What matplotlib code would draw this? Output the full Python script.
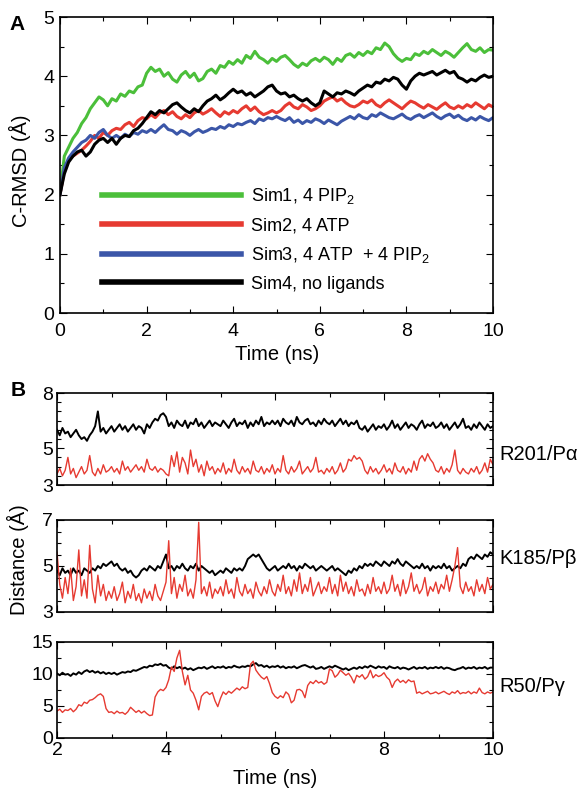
import numpy as np
import matplotlib
matplotlib.use("Agg")
import matplotlib.pyplot as plt
from matplotlib.ticker import MultipleLocator

plt.rcParams['font.family'] = ['Liberation Sans', 'DejaVu Sans']
plt.rcParams['mathtext.fontset'] = 'custom'
plt.rcParams['mathtext.rm'] = 'Liberation Sans'
plt.rcParams['mathtext.it'] = 'Liberation Sans:italic'

# ---------------- Panel A data (t = 0..10 ns, step 0.1) ----------------
time_a = np.round(np.arange(0, 10.001, 0.1), 2)

sim1_pip2 = [
    2.00, 2.65, 2.80, 2.95, 3.05, 3.20, 3.30, 3.45, 3.55, 3.65,
    3.60, 3.50, 3.62, 3.58, 3.70, 3.66, 3.75, 3.72, 3.82, 3.85,
    4.05, 4.15, 4.08, 4.12, 4.00, 4.06, 3.95, 3.90, 4.02, 4.08,
    3.98, 4.05, 3.92, 3.96, 4.08, 4.12, 4.05, 4.18, 4.15, 4.25,
    4.20, 4.28, 4.22, 4.35, 4.30, 4.42, 4.32, 4.28, 4.22, 4.30,
    4.25, 4.32, 4.35, 4.28, 4.20, 4.15, 4.22, 4.18, 4.26, 4.30,
    4.25, 4.32, 4.28, 4.20, 4.30, 4.25, 4.35, 4.38, 4.32, 4.40,
    4.35, 4.42, 4.38, 4.48, 4.45, 4.56, 4.50, 4.38, 4.30, 4.25,
    4.30, 4.28, 4.38, 4.35, 4.42, 4.38, 4.45, 4.40, 4.35, 4.42,
    4.38, 4.32, 4.40, 4.48, 4.55, 4.45, 4.42, 4.48, 4.40, 4.45,
    4.44]

sim2_atp = [
    2.00, 2.40, 2.58, 2.65, 2.70, 2.75, 2.82, 2.90, 3.00, 2.95,
    3.05, 3.00, 3.08, 3.12, 3.10, 3.18, 3.22, 3.15, 3.25, 3.30,
    3.28, 3.35, 3.30, 3.38, 3.42, 3.35, 3.40, 3.32, 3.28, 3.35,
    3.30, 3.38, 3.42, 3.36, 3.40, 3.45, 3.38, 3.32, 3.40, 3.36,
    3.42, 3.38, 3.45, 3.50, 3.42, 3.48, 3.40, 3.35, 3.38, 3.42,
    3.38, 3.42, 3.50, 3.55, 3.48, 3.45, 3.52, 3.48, 3.42, 3.45,
    3.50, 3.58, 3.62, 3.65, 3.58, 3.62, 3.55, 3.50, 3.48, 3.52,
    3.58, 3.55, 3.60, 3.52, 3.48, 3.55, 3.60, 3.55, 3.50, 3.45,
    3.52, 3.58, 3.55, 3.50, 3.46, 3.52, 3.48, 3.44, 3.50, 3.55,
    3.48, 3.45, 3.50, 3.46, 3.52, 3.48, 3.55, 3.50, 3.45, 3.52,
    3.48]

sim3_atp_pip2 = [
    2.00, 2.45, 2.62, 2.72, 2.80, 2.88, 2.92, 3.00, 2.95, 3.05,
    3.10, 3.00, 2.95, 3.00, 2.95, 3.02, 2.98, 3.05, 3.02, 3.08,
    3.05, 3.10, 3.05, 3.12, 3.18, 3.10, 3.08, 3.02, 3.08, 3.05,
    3.00, 3.06, 3.10, 3.05, 3.08, 3.12, 3.10, 3.15, 3.12, 3.18,
    3.15, 3.20, 3.18, 3.22, 3.25, 3.20, 3.28, 3.25, 3.30, 3.28,
    3.32, 3.28, 3.25, 3.30, 3.22, 3.26, 3.20, 3.25, 3.22, 3.28,
    3.25, 3.20, 3.26, 3.22, 3.18, 3.24, 3.28, 3.32, 3.28, 3.35,
    3.30, 3.28, 3.35, 3.32, 3.38, 3.34, 3.30, 3.28, 3.32, 3.36,
    3.30, 3.27, 3.32, 3.35, 3.30, 3.34, 3.38, 3.32, 3.28, 3.33,
    3.36, 3.30, 3.34, 3.28, 3.25, 3.30, 3.26, 3.32, 3.28, 3.25,
    3.30]

sim4_none = [
    2.00, 2.35, 2.55, 2.65, 2.72, 2.75, 2.65, 2.72, 2.85, 2.92,
    2.95, 2.88, 2.95, 2.85, 2.95, 3.00, 2.98, 3.08, 3.12, 3.20,
    3.30, 3.40, 3.35, 3.42, 3.38, 3.45, 3.52, 3.55, 3.48, 3.42,
    3.38, 3.45, 3.40, 3.50, 3.58, 3.62, 3.68, 3.60, 3.65, 3.72,
    3.78, 3.72, 3.75, 3.68, 3.72, 3.65, 3.70, 3.75, 3.82, 3.85,
    3.75, 3.70, 3.72, 3.65, 3.68, 3.62, 3.58, 3.62, 3.55, 3.50,
    3.55, 3.75, 3.70, 3.65, 3.72, 3.70, 3.75, 3.72, 3.68, 3.75,
    3.80, 3.85, 3.82, 3.90, 3.88, 3.95, 3.92, 3.98, 3.95, 3.85,
    3.78, 3.92, 4.00, 4.05, 4.02, 4.05, 4.08, 4.02, 4.06, 4.10,
    4.05, 4.08, 3.98, 3.95, 3.90, 3.95, 3.92, 3.98, 4.02, 3.98,
    4.00]

legend_labels = ["Sim1, 4 PIP$_2$", "Sim2, 4 ATP",
                 "Sim3, 4 ATP  + 4 PIP$_2$", "Sim4, no ligands"]

# ---------------- Panel B data (t = 2..10 ns, step 0.05) ----------------
time_b = np.round(np.arange(2, 10.001, 0.05), 3)

r201_black = [
    6.0, 5.7, 6.1, 5.8, 5.9, 5.6, 5.8, 6.0, 5.7, 5.5, 5.6, 5.4, 5.7, 5.9, 6.2, 7.0, 5.9, 6.1, 5.8, 6.0,
    6.2, 5.9, 6.1, 6.3, 6.0, 6.2, 5.9, 6.1, 6.3, 6.0, 6.2, 6.1, 5.8, 6.3, 6.1, 6.4, 6.6, 6.5, 6.8, 6.9,
    6.7, 6.2, 6.4, 6.1, 6.5, 6.3, 6.2, 6.5, 6.1, 6.4, 6.3, 6.6, 6.2, 6.4, 6.1, 6.3, 6.5, 6.2, 6.4, 6.3,
    6.2, 6.5, 6.3, 6.1, 6.4, 6.6, 6.2, 6.4, 6.3, 6.5, 6.1, 6.4, 6.2, 6.5, 6.3, 6.7, 6.2, 6.4, 6.3, 6.5,
    6.3, 6.5, 6.2, 6.6, 6.4, 6.3, 6.5, 6.2, 6.7, 6.4, 6.3, 6.5, 6.6, 6.3, 6.4, 6.2, 6.5, 6.3, 6.6, 6.4,
    6.3, 6.5, 6.2, 6.4, 6.6, 6.3, 6.5, 6.2, 6.4, 6.3, 6.5, 6.1, 6.0, 6.2, 5.9, 6.1, 6.3, 6.0, 6.2, 6.1,
    6.3, 6.0, 6.2, 6.5, 6.1, 6.3, 6.0, 6.2, 6.4, 6.1, 6.3, 6.2, 6.0, 6.3, 6.5, 6.1, 6.3, 6.2, 6.4, 6.1,
    6.2, 6.4, 6.1, 6.3, 6.0, 6.2, 6.4, 6.1, 6.3, 6.6, 6.1, 6.2, 6.0, 6.3, 6.1, 6.4, 6.2, 6.0, 6.3, 6.1,
    6.2]

r201_red = [
    3.6, 3.9, 3.5, 3.8, 4.5, 3.6, 3.9, 3.4, 3.7, 4.0, 3.6, 3.8, 4.6, 3.7, 3.5, 3.9, 3.6, 4.1, 3.7, 3.8,
    4.0, 3.7, 3.9, 3.6, 4.3, 3.8, 4.0, 3.7, 3.9, 4.1, 3.8, 4.0, 3.7, 4.4, 3.9, 3.8, 4.0, 3.7, 3.9, 3.8,
    3.6, 3.5, 4.6, 4.0, 4.8, 3.7, 4.5, 4.2, 3.6, 4.9, 4.0, 4.4, 3.7, 4.1, 3.5, 4.3, 3.8, 4.0, 3.6, 3.9,
    3.7, 4.2, 3.6, 3.9, 3.7, 4.4, 3.8, 3.6, 4.0, 3.7, 3.9, 3.6, 4.3, 3.8, 3.7, 4.0, 3.6, 3.9, 3.7, 4.1,
    3.6, 3.9, 3.7, 4.6, 3.8, 3.6, 4.0, 3.7, 3.9, 4.3, 3.6, 3.8, 4.0, 3.7, 3.9, 4.5, 3.7, 3.8, 3.6, 3.9,
    3.7, 4.0, 3.6, 3.8, 4.2, 3.7, 3.9, 4.4, 4.3, 4.6, 4.4, 4.5, 4.3, 3.8, 3.6, 4.0, 3.7, 3.9, 3.6, 3.8,
    4.1, 3.7, 3.9, 3.6, 4.2, 3.8, 3.7, 4.0, 3.6, 3.9, 3.7, 4.3, 3.8, 4.4, 4.6, 4.3, 4.7, 4.4, 4.2, 3.8,
    3.7, 4.0, 3.6, 3.9, 3.7, 4.1, 4.9, 3.8, 3.6, 3.9, 3.7, 3.6, 3.9, 3.7, 4.0, 3.6, 3.8, 4.2, 3.7, 4.4,
    4.1]

k185_black = [
    4.8, 4.6, 4.9, 4.7, 4.8, 4.6, 4.9, 4.7, 4.8, 4.6, 4.9, 4.8, 4.7, 4.9, 4.8, 5.0, 4.9, 5.1, 5.0, 5.1,
    5.2, 5.0, 5.1, 4.9, 4.8, 4.9, 4.7, 4.8, 4.6, 4.5, 4.6, 4.8, 4.9, 4.8, 5.0, 4.9, 4.8, 5.0, 4.9, 5.2,
    5.5, 4.9, 5.0, 4.8, 5.0, 4.9, 5.1, 4.9, 4.8, 5.0, 4.9, 5.1, 4.8, 5.0, 4.9, 4.8, 4.7, 4.8, 4.6, 4.7,
    4.8, 4.7, 4.9, 4.8, 4.7, 4.9, 4.8, 4.9, 4.8, 5.0, 5.3, 5.4, 5.5, 5.4, 5.5, 5.3, 5.1, 4.9, 4.8, 4.9,
    5.0, 4.8, 4.9, 5.0, 4.9, 5.1, 4.9, 5.0, 4.8, 5.0, 4.9, 5.1, 5.0, 4.9, 5.0, 4.8, 4.9, 5.0, 4.9, 4.8,
    4.9, 5.0, 4.8, 4.9, 4.8, 4.7, 4.6, 4.8, 4.7, 4.9, 4.8, 5.0, 4.9, 5.1, 5.0, 5.1, 5.0, 5.2, 5.1, 5.0,
    5.2, 5.1, 5.0, 5.2, 5.1, 5.3, 5.1, 5.0, 5.2, 5.1, 5.0, 4.9, 5.0, 4.9, 5.1, 4.9, 5.0, 4.8, 5.0, 4.9,
    5.0, 4.9, 5.1, 4.9, 5.0, 4.8, 4.9, 5.0, 4.9, 5.1, 5.0, 5.3, 5.4, 5.3, 5.5, 5.4, 5.3, 5.5, 5.4, 5.6,
    5.5]

k185_red = [
    5.6, 4.2, 3.6, 4.5, 3.8, 4.9, 3.5, 4.1, 5.7, 3.7, 4.4, 3.6, 5.9, 4.0, 3.4, 4.6, 3.7, 4.2, 3.5, 3.9,
    3.6, 4.1, 3.5, 3.8, 4.3, 3.4, 3.9, 3.6, 4.2, 3.5, 3.8, 3.4, 4.0, 3.6, 3.9, 3.5, 4.2, 3.7, 3.5, 3.9,
    4.3, 6.1, 3.8, 4.5, 3.6, 4.2, 3.9, 4.6, 3.7, 4.0, 3.6, 4.4, 6.9, 3.8, 4.1, 3.7, 4.3, 3.6, 4.0, 3.8,
    4.1, 3.7, 4.4, 3.8, 4.0, 3.6, 4.5, 3.9, 3.7, 4.2, 3.8, 4.0, 3.6, 4.3, 3.9, 3.7, 4.1, 3.8, 4.4, 3.9,
    3.7, 4.2, 3.9, 4.6, 3.8, 4.1, 3.7, 4.4, 3.9, 4.7, 3.8, 4.2, 3.9, 4.5, 3.7, 4.0, 4.3, 3.8, 4.1, 3.9,
    4.5, 3.8, 4.2, 3.7, 4.6, 3.9, 4.3, 3.8, 4.1, 3.7, 4.4, 3.9, 4.0, 3.7, 4.2, 3.8, 4.5, 3.9, 4.1, 3.8,
    4.3, 3.8, 4.0, 4.6, 3.9, 4.2, 3.7, 4.4, 3.8, 4.1, 4.7, 3.9, 4.2, 3.8, 4.0, 4.5, 3.7, 4.1, 3.9, 4.3,
    3.8, 4.2, 4.0, 4.6, 3.9, 4.4, 5.0, 5.8, 4.1, 3.8, 4.3, 3.9, 4.1, 3.7, 4.4, 3.9, 4.2, 3.8, 4.5, 4.0,
    4.2]

r50_black = [
    10.1, 9.8, 10.2, 9.9, 10.0, 9.7, 10.1, 9.9, 10.3, 10.0, 10.4, 10.6, 10.3, 10.5, 10.2, 10.4, 10.1, 10.3, 10.0, 10.2,
    10.0, 10.2, 9.9, 10.1, 10.3, 10.2, 10.4, 10.3, 10.6, 10.5, 10.7, 10.9, 11.1, 11.0, 11.3, 11.2, 11.5, 11.4, 11.6, 11.3,
    11.4, 11.0, 10.8, 11.2, 10.9, 11.1, 10.8, 11.0, 10.7, 10.9, 10.6, 10.8, 11.0, 10.9, 11.1, 10.8, 11.0, 11.2, 10.9, 11.1,
    11.0, 11.2, 10.9, 11.1, 11.0, 11.3, 11.1, 11.0, 11.2, 11.1, 11.3, 11.2, 11.5, 11.7, 11.3, 11.4, 11.1, 11.3, 11.0, 11.2,
    11.1, 11.3, 11.0, 11.2, 10.9, 11.1, 11.0, 11.2, 10.9, 11.1, 11.3, 11.4, 11.2, 11.0, 11.2, 10.8, 10.9, 11.1, 10.8, 11.0,
    11.2, 11.0, 11.3, 11.1, 10.9, 10.7, 10.9, 10.6, 10.8, 11.0, 10.8, 11.1, 10.9, 11.2, 11.0, 11.3, 11.1, 10.9, 11.2, 11.0,
    11.1, 10.8, 11.2, 11.0, 10.9, 11.1, 10.8, 11.0, 10.9, 10.7, 10.9, 11.1, 10.8, 11.0, 10.9, 11.1, 10.8, 11.0, 10.9, 11.1,
    10.9, 11.1, 10.8, 11.0, 10.9, 10.7, 10.6, 10.8, 10.9, 11.1, 10.8, 11.0, 10.9, 11.1, 10.8, 11.0, 10.9, 11.1, 10.8, 11.0,
    11.0]

r50_red = [
    4.2, 4.5, 4.0, 4.4, 4.3, 4.6, 4.1, 4.5, 5.2, 5.0, 5.6, 5.4, 5.9, 6.0, 6.3, 6.7, 6.9, 6.5, 4.6, 4.0,
    4.1, 3.8, 4.2, 3.9, 4.0, 3.7, 4.1, 4.8, 4.4, 4.0, 4.3, 3.9, 4.2, 3.8, 3.5, 3.6, 6.4, 7.2, 7.6, 7.4,
    7.9, 9.1, 11.1, 10.4, 12.5, 13.7, 10.4, 8.3, 9.8, 7.5, 7.0, 5.9, 4.4, 6.5, 7.0, 7.2, 6.8, 7.1, 5.8, 4.9,
    6.2, 7.2, 6.8, 7.3, 7.0, 7.4, 7.8, 7.5, 8.0, 7.7, 7.9, 11.5, 12.0, 10.6, 10.0, 9.5, 9.2, 9.6, 8.5, 7.1,
    6.5, 6.2, 6.6, 6.3, 7.2, 6.8, 5.5, 5.9, 7.5, 7.6, 7.3, 6.3, 8.2, 8.8, 8.5, 9.0, 8.6, 8.8, 8.4, 8.7,
    10.8, 10.5, 9.5, 9.9, 10.6, 10.2, 9.8, 10.1, 9.5, 8.6, 9.8, 9.5, 9.9, 9.2, 9.6, 10.6, 9.4, 9.9, 9.6, 9.8,
    10.2, 9.5, 9.1, 7.9, 8.8, 9.2, 8.7, 9.0, 8.6, 9.1, 8.8, 8.9, 7.0, 7.2, 6.9, 7.1, 7.3, 6.9, 7.0, 7.2,
    6.9, 7.1, 7.3, 7.0, 6.8, 7.2, 7.0, 7.4, 6.9, 7.1, 7.0, 7.3, 6.9, 7.2, 7.0, 7.8, 7.1, 6.9, 7.2, 7.0,
    7.2]

panel_b_labels = ["R201/P\u03b1", "K185/P\u03b2", "R50/P\u03b3"]

GREEN = "#4bbf3a"
RED = "#e63a31"
BLUE = "#3b56a8"
BLACK = "#000000"

W, H = 584, 791
fig = plt.figure(figsize=(W / 100, H / 100), dpi=100)

TICK_FS = 14
LABEL_FS = 14.5


def rect(l, t, r, b):
    return [l / W, 1 - b / H, (r - l) / W, (b - t) / H]


def fy(py):
    return 1 - py / H


def style(ax, xpad, ypad):
    ax.tick_params(which='both', direction='in', top=True, right=True,
                   labelsize=TICK_FS, width=0.8)
    ax.tick_params(axis='x', which='major', pad=xpad)
    ax.tick_params(axis='y', which='major', pad=ypad)
    ax.tick_params(which='major', length=5)
    ax.tick_params(which='minor', length=3)
    for s in ax.spines.values():
        s.set_linewidth(1.2)


# ---------------- Panel A ----------------
axA = fig.add_axes(rect(60, 17, 493, 313))
for y, c in zip([sim1_pip2, sim2_atp, sim3_atp_pip2, sim4_none],
                [GREEN, RED, BLUE, BLACK]):
    axA.plot(time_a, y, color=c, lw=2.2)
axA.set_xlim(0, 10)
axA.set_ylim(0, 5)
axA.xaxis.set_major_locator(MultipleLocator(2))
axA.xaxis.set_minor_locator(MultipleLocator(1))
axA.yaxis.set_major_locator(MultipleLocator(1))
axA.yaxis.set_minor_locator(MultipleLocator(0.5))
style(axA, xpad=7, ypad=4)

fig.text(277 / W, fy(354), "Time (ns)", fontsize=LABEL_FS, ha='center', va='center')
fig.text(20 / W, fy(171), "C-RMSD (\u00c5)", fontsize=LABEL_FS, rotation=90,
         ha='center', va='center')

handles = [plt.Line2D([], [], color=c, lw=4) for c in [GREEN, RED, BLUE, BLACK]]
axA.legend(handles, legend_labels, loc='upper left',
           bbox_to_anchor=(0.097, 0.428), frameon=False, fontsize=13,
           handlelength=7.7, handletextpad=0.55, labelspacing=0.6,
           borderpad=0, borderaxespad=0)

fig.text(9 / W, fy(25), "A", fontsize=15, fontweight='bold', va='center')
fig.text(11 / W, fy(390), "B", fontsize=15, fontweight='bold', va='center')

# ---------------- Panel B ----------------
b_specs = [
    (393, 485, r201_black, r201_red, (3, 8), [3, 5, 8], 0.5, 455),
    (520, 612, k185_black, k185_red, (3, 7), [3, 5, 7], 0.5, 558),
    (642, 738, r50_black, r50_red, (0, 15), [0, 5, 10, 15], 2.5, 687),
]
axes_b = []
for i, (top, bot, yb, yr, ylim, yt, ymin, ylab) in enumerate(b_specs):
    ax = fig.add_axes(rect(57, top, 493, bot))
    ax.plot(time_b, yb, color=BLACK, lw=1.4)
    ax.plot(time_b, yr, color=RED, lw=1.0)
    ax.set_xlim(2, 10)
    ax.set_ylim(*ylim)
    ax.set_yticks(yt)
    ax.yaxis.set_minor_locator(MultipleLocator(ymin))
    ax.xaxis.set_major_locator(MultipleLocator(2))
    ax.xaxis.set_minor_locator(MultipleLocator(1))
    style(ax, xpad=3, ypad=3)
    if i < 2:
        ax.tick_params(labelbottom=False)
    fig.text(499 / W, fy(ylab), panel_b_labels[i], fontsize=LABEL_FS,
             va='center', ha='left')
    axes_b.append(ax)

fig.text(275 / W, fy(779), "Time (ns)", fontsize=LABEL_FS, ha='center', va='center')
fig.text(18 / W, fy(560), "Distance (\u00c5)", fontsize=LABEL_FS,
         rotation=90, va='center', ha='center')

fig.savefig("out.png", dpi=100)
